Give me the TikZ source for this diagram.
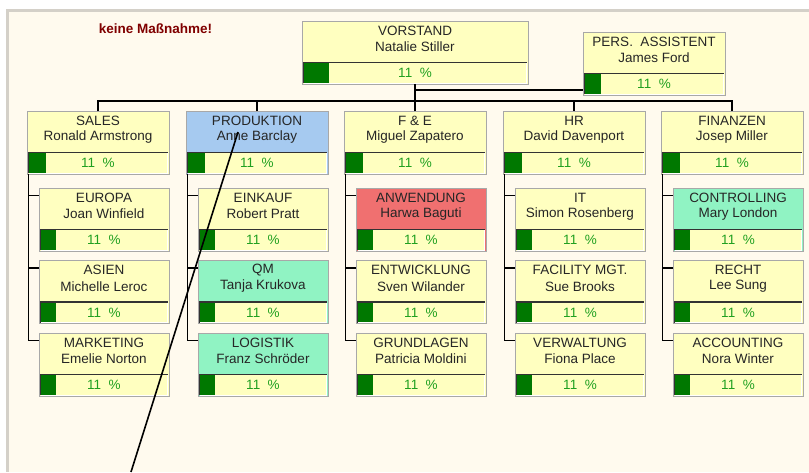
\documentclass[tikz,border=0pt]{standalone}
\usepackage{fontspec}
\setmainfont{Liberation Sans}
\usetikzlibrary{calc}
\definecolor{bgcream}{HTML}{FFFAEE}
\definecolor{framegray}{HTML}{D4D0C8}
\definecolor{boxyellow}{HTML}{FFFFC0}
\definecolor{boxblue}{HTML}{A6CAF0}
\definecolor{boxmint}{HTML}{90F3C3}
\definecolor{boxred}{HTML}{F07070}
\definecolor{bargreen}{HTML}{007800}
\definecolor{pctgreen}{HTML}{20A020}
\definecolor{warnred}{HTML}{800000}
\definecolor{boxedge}{HTML}{A8A8A8}
\tikzset{
  unitbox/.style={rectangle, draw=boxedge, line width=0.8pt, inner sep=0pt, outer sep=0pt, minimum height=63pt},
  utext/.style={inner sep=0pt, text=black!85, font=\fontsize{13.5}{15}\selectfont},
  pcttext/.style={inner sep=0pt, text=pctgreen, font=\fontsize{13.5}{15}\selectfont},
  conn/.style={draw=black, line width=1.7pt},
}
% name, x, y, width, fill, title, person, green width
\newcommand\orgunit[8]{%
  \node[unitbox, fill=#5, minimum width=#4pt, anchor=north west] (#1) at (#2,#3) {};
  \node[utext] at ([yshift=-9.5pt]#1.north) {#6};
  \node[utext] at ([yshift=-26pt]#1.north) {#7};
  \fill[boxyellow] ([xshift=1.5pt,yshift=-41pt]#1.north west) rectangle ([xshift=-1.5pt,yshift=-62pt]#1.north east);
  \fill[bargreen] ([xshift=1.5pt,yshift=-41pt]#1.north west) rectangle ([xshift={1.5pt+#8pt},yshift=-62pt]#1.north west);
  \draw[white, line width=1pt] ([xshift=-1.5pt,yshift=-41pt]#1.north east) -- ([xshift=-1.5pt,yshift=-62pt]#1.north east) -- ([xshift=1.5pt,yshift=-62pt]#1.north west);
  \draw[black!80, line width=1.3pt] ([xshift=1.8pt,yshift=-62pt]#1.north west) -- ([xshift=1.8pt,yshift=-41.5pt]#1.north west) -- ([xshift=-1.5pt,yshift=-41.5pt]#1.north east);
  \node[pcttext] at ([yshift=-52pt]#1.north) {11\ \ \%};
}
\begin{document}
\begin{tikzpicture}[x=1pt,y=-1pt]
\useasboundingbox (0,0) rectangle (809,472);
\fill[white] (0,0) rectangle (809,472);
\fill[framegray] (6,9) rectangle (809,472);
\fill[bgcream] (9,12) rectangle (809,472);

\node[inner sep=0pt, text=warnred, font=\bfseries\fontsize{13.5}{15}\selectfont] (warn) at (155.5,28.5) {keine Maßnahme!};

% top level
\orgunit{vorstand}{302}{21}{226}{boxyellow}{VORSTAND}{Natalie Stiller}{25}
\orgunit{pers}{583}{32}{142}{boxyellow}{PERS.\ \ ASSISTENT}{James Ford}{16}

% level 2
\orgunit{sales}{27}{111}{142}{boxyellow}{SALES}{Ronald Armstrong}{17}
\orgunit{prod}{186}{111}{142}{boxblue}{PRODUKTION}{Anne Barclay}{17}
\orgunit{fue}{344}{111}{142}{boxyellow}{F \& E}{Miguel Zapatero}{17}
\orgunit{hr}{503}{111}{142}{boxyellow}{HR}{David Davenport}{17}
\orgunit{fin}{661}{111}{142}{boxyellow}{FINANZEN}{Josep Miller}{17}

% children
\orgunit{europa}{39}{188}{130}{boxyellow}{EUROPA}{Joan Winfield}{15}
\orgunit{asien}{39}{260.5}{130}{boxyellow}{ASIEN}{Michelle Leroc}{15}
\orgunit{marketing}{39}{333}{130}{boxyellow}{MARKETING}{Emelie Norton}{15}

\orgunit{einkauf}{198}{188}{130}{boxyellow}{EINKAUF}{Robert Pratt}{15}
\orgunit{qm}{198}{260.5}{130}{boxmint}{QM}{Tanja Krukova}{15}
\orgunit{logistik}{198}{333}{130}{boxmint}{LOGISTIK}{Franz Schröder}{15}

\orgunit{anwendung}{356}{188}{130}{boxred}{ANWENDUNG}{Harwa Baguti}{15}
\orgunit{entwicklung}{356}{260.5}{130}{boxyellow}{ENTWICKLUNG}{Sven Wilander}{15}
\orgunit{grundlagen}{356}{333}{130}{boxyellow}{GRUNDLAGEN}{Patricia Moldini}{15}

\orgunit{it}{515}{188}{130}{boxyellow}{IT}{Simon Rosenberg}{15}
\orgunit{facility}{515}{260.5}{130}{boxyellow}{FACILITY MGT.}{Sue Brooks}{15}
\orgunit{verwaltung}{515}{333}{130}{boxyellow}{VERWALTUNG}{Fiona Place}{15}

\orgunit{controlling}{673}{188}{130}{boxmint}{CONTROLLING}{Mary London}{15}
\orgunit{recht}{673}{260.5}{130}{boxyellow}{RECHT}{Lee Sung}{15}
\orgunit{accounting}{673}{333}{130}{boxyellow}{ACCOUNTING}{Nora Winter}{15}

% connectors top
\coordinate (bus) at (0,101);
\coordinate (assist) at (0,90);
\draw[conn] (vorstand.south) -- (vorstand.south |- bus);
\draw[conn] (vorstand.south |- assist) -- (pers.west |- assist);
\draw[conn] (sales.north) -- (sales.north |- bus) -- (fin.north |- bus) -- (fin.north);
\draw[conn] (prod.north) -- (prod.north |- bus);
\draw[conn] (fue.north) -- (fue.north |- bus);
\draw[conn] (hr.north) -- (hr.north |- bus);

% tree lines
\foreach \p/\a/\b/\c in {sales/europa/asien/marketing, prod/einkauf/qm/logistik, fue/anwendung/entwicklung/grundlagen, hr/it/facility/verwaltung, fin/controlling/recht/accounting}{
  \draw[conn] ([xshift=1.5pt]\p.south west) -- ([xshift=-10.5pt,yshift=-7.5pt]\c.north west) -- ([yshift=-7.5pt]\c.north west);
  \draw[conn] ([xshift=-10.5pt,yshift=-7.5pt]\a.north west) -- ([yshift=-7.5pt]\a.north west);
  \draw[conn] ([xshift=-10.5pt,yshift=-7.5pt]\b.north west) -- ([yshift=-7.5pt]\b.north west);
}

% free diagonal line
\coordinate (d1) at (238,132);
\coordinate (d2) at (131,472);
\draw[black, line width=1.6pt] (d1) -- (d2);
\end{tikzpicture}
\end{document}
